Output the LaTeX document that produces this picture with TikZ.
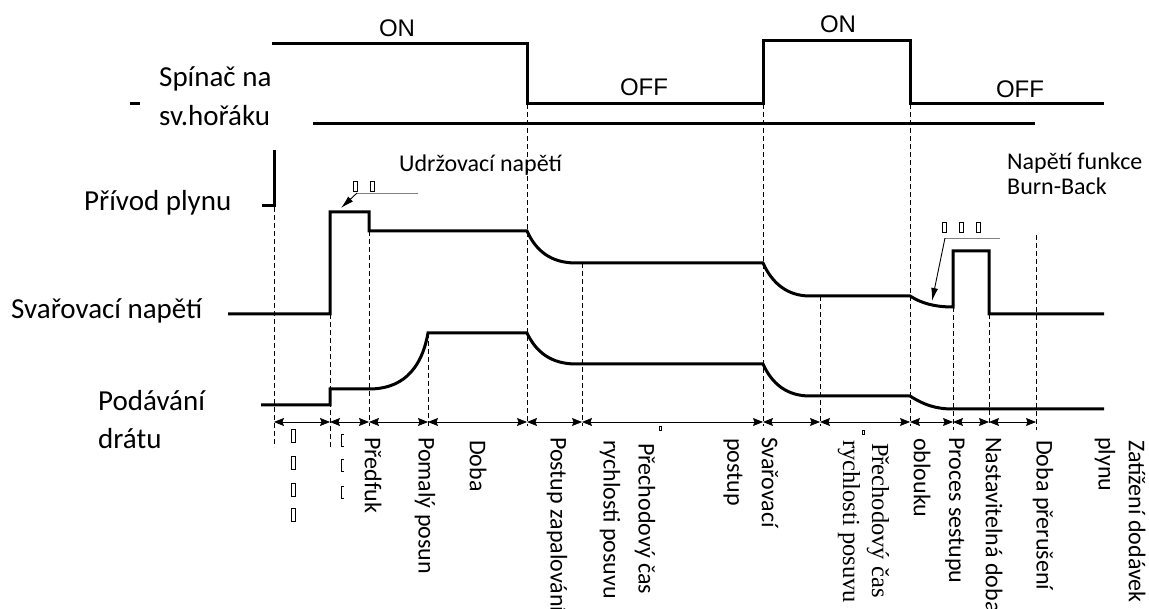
\documentclass[tikz,border=0pt]{standalone}
\usepackage{fontspec}
\setmainfont{Carlito}
\newfontfamily\arialf{Liberation Sans}
\newfontfamily\timesf{Liberation Serif}
\usetikzlibrary{arrows.meta}
\begin{document}
\begin{tikzpicture}[x=1pt,y=-1pt,
  wave/.style={line width=3pt, line join=miter},
  thinl/.style={line width=0.9pt},
  dim/.style={line width=0.8pt, {Stealth[length=10pt,width=8pt,inset=1.5pt]}-{Stealth[length=10pt,width=8pt,inset=1.5pt]}},
  guide/.style={line width=0.8pt, dash pattern=on 5pt off 3pt},
  ann/.style={line width=0.9pt, -{Latex[length=13pt,width=7pt]}},
  lbl/.style={font=\fontsize{29}{34}\selectfont, inner sep=0pt, anchor=west},
  note/.style={font=\fontsize{24}{28}\selectfont, inner sep=0pt, anchor=west},
  onoff/.style={font=\arialf\fontsize{24}{28}\selectfont, inner sep=0pt},
  rl/.style={rotate=-90, anchor=west, inner sep=0pt, font=\fontsize{24}{28}\selectfont},
  rls/.style={rotate=-90, anchor=west, inner sep=0pt, font=\timesf\fontsize{24.5}{28}\selectfont},
  tofu/.style={draw, line width=0.8pt, inner sep=0pt, minimum width=4pt, minimum height=13pt},
  tofus/.style={draw, line width=0.8pt, inner sep=0pt, minimum width=4pt, minimum height=10pt},
  tinytofu/.style={draw, line width=0.6pt, inner sep=0pt, minimum width=2pt, minimum height=4pt},
  brk/.style={line width=0.8pt}
]
\useasboundingbox (0,0) rectangle (1149,609);

% ---------- left labels ----------
\node[lbl] (spinac) at (159,79) {Spínač na};
\node[lbl] (horak) at (159,116) {sv.hořáku};
\node[lbl] (plyn) at (84,203) {Přívod plynu};
\node[lbl] (svar) at (11,311) {Svařovací napětí};
\node[lbl] (podav) at (98,401) {Podávání};
\node[lbl] (dratu) at (98,439) {drátu};

% ---------- ON / OFF ----------
\node[onoff] (on1) at (397,28) {ON};
\node[onoff] (off1) at (644,87) {OFF};
\node[onoff] (on2) at (838,24) {ON};
\node[onoff] (off2) at (1020,89) {OFF};

% ---------- notes ----------
\node[note] (udrz) at (399,165) {Udržovací napětí};
\node[note] (burn1) at (1007,163) {Napětí funkce};
\node[note] (burn2) at (1007,186) {Burn-Back};

% ---------- switch signal ----------
\draw[wave] (272,44) -- (527,44) -- (527,104) -- (763,104) -- (763,41) -- (910,41) -- (910,104) -- (1104,104);
\draw[wave] (313,124) -- (1035,124);
\draw[wave] (130,104) -- (140,104);
\draw[wave] (274,150) -- (274,206) -- (262,206);

% ---------- welding voltage ----------
\draw[wave] (228,314) -- (330,314) -- (330,212) -- (369,212) -- (369,231) -- (527,231)
  .. controls (536,251) and (551,263) .. (576,263) -- (763,263)
  .. controls (772,283) and (787,296) .. (810,296) -- (910,296)
  .. controls (921,303) and (934,307) .. (953,307) -- (953,251) -- (989,251) -- (989,314) -- (1104,314);

% ---------- wire feed ----------
\draw[wave] (261,405) -- (330,405) -- (330,389) -- (369,389)
  .. controls (400,389) and (421,372) .. (428,333) -- (527,333)
  .. controls (536,352) and (551,364) .. (576,364) -- (763,364)
  .. controls (772,384) and (787,396) .. (810,396) -- (910,396)
  .. controls (924,405) and (936,409) .. (953,409) -- (1104,409);

% ---------- guides ----------
\foreach \x/\a/\b in {274/207/447, 330/314/447, 369/231/426, 428/333/426, 527/104/426, 582/263/426,
  763/104/426, 820/296/426, 910/104/426, 953/307/430, 989/314/426, 1036/235/430}
  \draw[guide] (\x,\a) -- (\x,\b);

% ---------- dimension arrows ----------
\foreach \n/\x in {1/274,2/330,3/369,4/428,5/527,6/582,7/763,8/820,9/910,10/953,11/989,12/1036}
  \coordinate (t\n) at (\x,422);
\foreach \a/\b in {1/2,2/3,3/4,4/5,5/6,6/7,7/8,8/9,9/10,10/11,11/12}
  \draw[dim] (t\a) -- (t\b);

% ---------- annotation arrows ----------
\node[tofus] (ta1) at (355,186) {};
\node[tofus] (ta2) at (372,186) {};
\coordinate (a1s) at (418,193);
\coordinate (a1k) at (357,193);
\coordinate (a1e) at (341,208);
\draw[thinl, gray] (a1s) -- (a1k);
\draw[ann] (a1k) -- (a1e);

\node[tofus] (tb1) at (944,227) {};
\node[tofus] (tb2) at (961,227) {};
\node[tofus] (tb3) at (978,227) {};
\coordinate (a2s) at (1000,238);
\coordinate (a2k) at (945,238);
\coordinate (a2e) at (932,301);
\draw[thinl, gray] (a2s) -- (a2k);
\draw[ann] (a2k) -- (a2e);

% ---------- bottom labels ----------
\node[tofu] (c1) at (293,436) {};
\node[tofu] (c2) at (293,463) {};
\node[tofu] (c3) at (293,490) {};
\node[tofu] (c4) at (293,515) {};
\foreach \y in {440,465,492}
  \draw[brk] (344,\y-6) -- (341,\y-6) -- (341,\y+6) -- (344,\y+6);
\node[tinytofu] (e1) at (660,428) {};
\node[tinytofu] (e2) at (863,432) {};

\node[rl] (l1) at (373,437) {Předfuk};
\node[rl] (l2) at (425,437) {Pomalý posun};
\node[rl] (l3) at (478,440) {Doba};
\node[rl] (l4) at (557,437) {Postup zapalování};
\node[rl] (l5a) at (645,443) {Přechodový čas};
\node[rl] (l5b) at (610,440) {rychlosti posuvu};
\node[rl] (l6a) at (770,437) {Svařovací};
\node[rl] (l6b) at (733,438) {postup};
\node[rls] (l7a) at (878,443) {Přechodový čas};
\node[rls] (l7b) at (849,440) {rychlosti posuvu};
\node[rl] (l8a) at (955,437) {Proces sestupu};
\node[rl] (l8b) at (922,438) {oblouku};
\node[rl] (l9) at (994,437) {Nastavitelná doba};
\node[rl] (l10) at (1043,440) {Doba přerušení};
\node[rl] (l11a) at (1137,440) {Zatížení dodávek};
\node[rl] (l11b) at (1105,437) {plynu};
\end{tikzpicture}
\end{document}
